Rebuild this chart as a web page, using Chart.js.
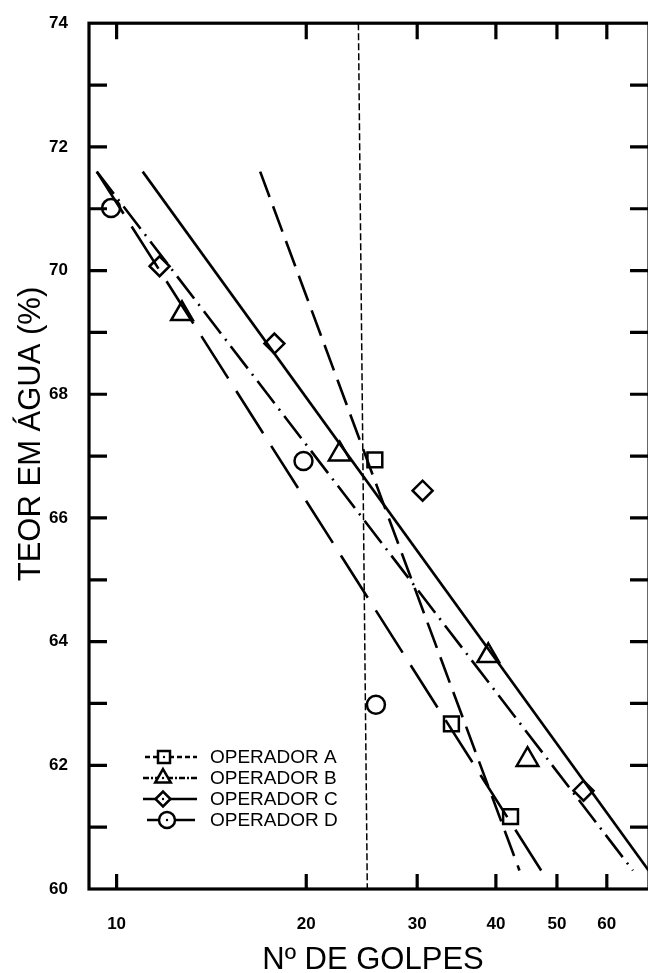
<!DOCTYPE html>
<html>
<head>
<meta charset="utf-8">
<script src="https://cdn.jsdelivr.net/npm/chart.js@4"></script>
<style>
html, body { margin: 0; padding: 0; background: #fff; overflow: hidden; }
#wrap { width: 648px; height: 973px; overflow: hidden; position: relative; }
#canvas { position: absolute; left: 0; top: 0; }
</style>
</head>
<body>
<div id="wrap"><canvas id="canvas" width="664" height="973"></canvas></div>
<script>
// points (nº de golpes, teor em água %)
var golpesA = [25.7, 34.0, 42.2];
var teorA = [66.94, 62.67, 61.17];
var golpesB = [12.7, 22.6, 38.9, 44.9];
var teorB = [69.30, 67.03, 63.77, 62.09];
var golpesC = [11.7, 17.8, 30.6, 55.1];
var teorC = [70.07, 68.82, 66.44, 61.59];
var golpesD = [9.8, 19.8, 25.8];
var teorD = [71.01, 66.92, 62.98];

// ends of the fitted straight lines
var fitGolpesA = [16.9, 43.6], fitTeorA = [71.6, 60.3];
var fitGolpesB = [9.3, 66.0], fitTeorB = [71.6, 60.3];
var fitGolpesC = [11.0, 69.9], fitTeorC = [71.6, 60.3];
var fitGolpesD = [9.3, 47.2], fitTeorD = [71.6, 60.3];

// 25 golpes reference line
var refGolpes = [24.2, 25.0];
var refTeor = [74, 60];

var xTicks = [10, 20, 30, 40, 50, 60];
var legendLabels = ['OPERADOR A', 'OPERADOR B', 'OPERADOR C', 'OPERADOR D'];

function pts(xs, ys) {
    return xs.map(function (x, i) { return { x: x, y: ys[i] }; });
}

var operators = [
    { pts: pts(golpesA, teorA), fit: pts(fitGolpesA, fitTeorA), style: 'rect', r: 10.5, dash: [27, 10] },
    { pts: pts(golpesB, teorB), fit: pts(fitGolpesB, fitTeorB), style: 'triangle', r: 12.5, dash: [28, 7, 2, 7] },
    { pts: pts(golpesC, teorC), fit: pts(fitGolpesC, fitTeorC), style: 'rectRot', r: 10, dash: [] },
    { pts: pts(golpesD, teorD), fit: pts(fitGolpesD, fitTeorD), style: 'circle', r: 9, dash: [50, 15] }
];

var datasets = [];
datasets.push({
    type: 'line', data: pts(refGolpes, refTeor), borderColor: '#000', borderWidth: 1.5,
    borderDash: [7, 3], pointRadius: 0, fill: false
});
operators.forEach(function (op) {
    datasets.push({
        type: 'line', data: op.fit, borderColor: '#000', borderWidth: 2.6,
        borderDash: op.dash, pointRadius: 0, fill: false, tension: 0
    });
});
operators.forEach(function (op) {
    datasets.push({
        data: op.pts, showLine: false, pointStyle: op.style, pointRadius: op.r,
        pointBackgroundColor: '#fff', pointBorderColor: '#000', pointBorderWidth: 2.5
    });
    datasets.push({
        data: op.pts, showLine: false, pointStyle: 'circle', pointRadius: 1.3,
        pointBackgroundColor: '#000', pointBorderColor: '#000', pointBorderWidth: 0
    });
});

function marker(ctx, style, x, y, r) {
    ctx.beginPath();
    if (style === 'rect') {
        ctx.rect(x - r, y - r, 2 * r, 2 * r);
    } else if (style === 'triangle') {
        ctx.moveTo(x, y - r);
        ctx.lineTo(x + r * 0.866, y + r / 2);
        ctx.lineTo(x - r * 0.866, y + r / 2);
        ctx.closePath();
    } else if (style === 'rectRot') {
        ctx.moveTo(x - r, y); ctx.lineTo(x, y - r); ctx.lineTo(x + r, y); ctx.lineTo(x, y + r);
        ctx.closePath();
    } else {
        ctx.arc(x, y, r, 0, Math.PI * 2);
    }
    ctx.fillStyle = '#fff';
    ctx.fill();
    ctx.stroke();
    ctx.beginPath();
    ctx.arc(x, y, 1.2, 0, Math.PI * 2);
    ctx.fillStyle = '#000';
    ctx.fill();
}

var framePlugin = {
    id: 'frame',
    afterDraw: function (chart) {
        var c = chart.ctx, a = chart.chartArea;
        var xs = chart.scales.x, ys = chart.scales.y;
        c.save();
        c.strokeStyle = '#000';
        c.lineWidth = 3.2;
        c.setLineDash([]);
        c.strokeRect(a.left, a.top, a.right - a.left, a.bottom - a.top);
        // inner ticks
        c.beginPath();
        for (var v = 61; v < 74; v++) {
            var py = ys.getPixelForValue(v);
            c.moveTo(a.left, py); c.lineTo(a.left + 18, py);
            c.moveTo(a.right - 19, py); c.lineTo(a.right, py);
        }
        xTicks.forEach(function (t) {
            var px = xs.getPixelForValue(t);
            c.moveTo(px, a.bottom); c.lineTo(px, a.bottom - 15);
            c.moveTo(px, a.top); c.lineTo(px, a.top + 16);
        });
        c.stroke();

        // legend
        var rows = [757, 778, 799, 820];
        var legDash = [[5, 3], [6, 2, 2, 2], [], []];
        var legR = [6, 9, 7.5, 8];
        var legX = [[145, 197, 164], [143, 198, 163], [143, 197, 163], [147, 195, 167]];
        c.font = '19px Arial, "Liberation Sans", sans-serif';
        c.textBaseline = 'middle';
        c.textAlign = 'left';
        rows.forEach(function (y, i) {
            c.lineWidth = 2.6;
            c.setLineDash(legDash[i]);
            c.beginPath();
            c.moveTo(legX[i][0], y); c.lineTo(legX[i][1], y);
            c.stroke();
            c.setLineDash([]);
            c.lineWidth = 2.5;
            marker(c, operators[i].style, legX[i][2], y, legR[i]);
            c.fillStyle = '#000';
            c.fillText(legendLabels[i], 210, y + 1);
        });

        // axis titles
        c.fillStyle = '#000';
        c.font = '31px Arial, "Liberation Sans", sans-serif';
        c.textAlign = 'center';
        c.textBaseline = 'middle';
        c.fillText('Nº DE GOLPES', 373, 960);
        c.translate(31, 434);
        c.rotate(-Math.PI / 2);
        c.fillText('TEOR EM ÁGUA (%)', 0, 0);
        c.restore();
    }
};

var tickFont = { family: 'Arial, "Liberation Sans", sans-serif', weight: 'bold', size: 17 };

window.onload = function () {
    var ctx = document.getElementById('canvas').getContext('2d');
    new Chart(ctx, {
        type: 'scatter',
        data: { datasets: datasets },
        options: {
            responsive: false,
            animation: false,
            devicePixelRatio: 1,
            layout: { padding: { top: 19, right: 8, left: 0, bottom: 0 } },
            plugins: { legend: { display: false }, tooltip: { enabled: false } },
            scales: {
                x: {
                    type: 'logarithmic', min: 9.04, max: 70,
                    grid: { display: false }, border: { display: false },
                    afterBuildTicks: function (s) { s.ticks = xTicks.map(function (v) { return { value: v }; }); },
                    afterFit: function (s) { s.height = 84; },
                    ticks: {
                        autoSkip: false, maxRotation: 0, padding: 17, color: '#000', font: tickFont,
                        callback: function (v) { return String(v); }
                    }
                },
                y: {
                    min: 60, max: 74,
                    grid: { display: false }, border: { display: false },
                    afterFit: function (s) { s.width = 89; },
                    ticks: {
                        stepSize: 1, padding: 13, color: '#000', font: tickFont,
                        callback: function (v) { return v % 2 === 0 ? String(v) : ''; }
                    }
                }
            }
        },
        plugins: [framePlugin]
    });
};
</script>
</body>
</html>
